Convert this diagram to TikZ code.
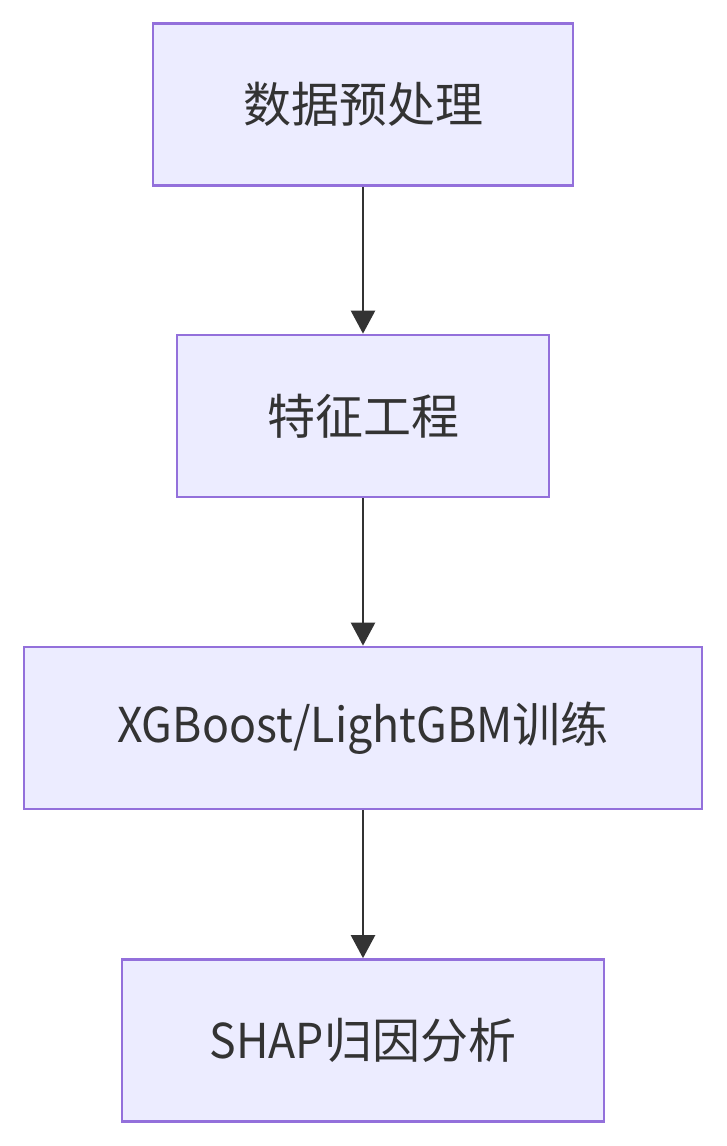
\documentclass[tikz,border=0pt]{standalone}
\usepackage{fontspec}
\usepackage{graphicx}
\setmainfont{Noto Sans CJK SC}
\usetikzlibrary{arrows.meta}
\definecolor{boxfill}{HTML}{ECECFF}
\definecolor{boxline}{HTML}{9370DB}
\definecolor{txt}{HTML}{333333}
\newcommand{\latn}[1]{\scalebox{0.93}[1]{#1}}
\tikzset{
  flowbox/.style={draw=boxline, fill=boxfill, line width=2.7pt, inner sep=0pt,
    minimum height=162pt, text=txt, font=\fontsize{48pt}{58pt}\selectfont},
  flowarrow/.style={draw=txt, line width=2.4pt, -{Triangle[width=24pt,length=23pt]}}
}
\begin{document}
\begin{tikzpicture}[x=1pt,y=-1pt]
\useasboundingbox (0,0) rectangle (726,1146);
\node[flowbox, minimum width=420pt] (a) at (363,104.5) {数据预处理};
\node[flowbox, minimum width=372pt] (b) at (363,416) {特征工程};
\node[flowbox, minimum width=678pt] (c) at (363,728) {\latn{XGBoost/LightGBM}训练};
\node[flowbox, minimum width=482pt] (d) at (363,1040.5) {\latn{SHAP}归因分析};
\draw[flowarrow] (a) -- (b);
\draw[flowarrow] (b) -- (c);
\draw[flowarrow] (c) -- (d);
\end{tikzpicture}
\end{document}
